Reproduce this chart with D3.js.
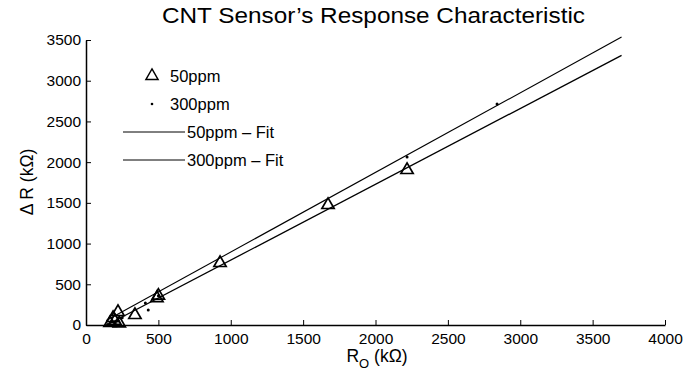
<!DOCTYPE html>
<html><head><meta charset="utf-8">
<script src="https://cdn.jsdelivr.net/npm/d3@7"></script>
<style>body{margin:0;background:#fff}svg{font-family:"Liberation Sans",Arial,sans-serif}</style>
</head><body><svg id="c" width="686" height="383"></svg>
<script>
const xTicks=[0,500,1000,1500,2000,2500,3000,3500,4000];
const yTicks=[0,500,1000,1500,2000,2500,3000,3500];
const r0_50=[166,187,221,200,230,338,490,500,926,1672,2218];
const dr_50=[25,86,160,50,20,123,330,360,762,1474,1904];
const r0_300=[150,180,200,220,250,410,430,500,2218,2840];
const dr_300=[5,40,20,60,90,270,185,360,2064,2715];
const fitX=[140,3700];
const fit50=[0.931*140-134,0.931*3700-134];
const fit300=[0.978*140-82,0.978*3700-82];
const legendLabels=["50ppm","300ppm","50ppm \u2013 Fit","300ppm \u2013 Fit"];

const svg=d3.select("#c");
const x=d3.scaleLinear().domain([0,4000]).range([86,665]);
const y=d3.scaleLinear().domain([0,3500]).range([325,40]);

svg.append("g").attr("transform","translate(0,325)")
 .call(d3.axisBottom(x).tickValues(xTicks).tickFormat(d3.format("d")).tickSize(-5).tickPadding(8).tickSizeOuter(0))
 .call(g=>{g.select(".domain").attr("stroke-width",1.5);g.selectAll("text").attr("font-size",15.5).attr("fill","#000");});
svg.append("g").attr("transform","translate(86,0)")
 .call(d3.axisLeft(y).tickValues(yTicks).tickFormat(d3.format("d")).tickSize(-5).tickPadding(5).tickSizeOuter(0))
 .call(g=>{g.select(".domain").attr("stroke-width",1.5);g.selectAll("text").attr("font-size",15.5).attr("fill","#000");});

const line=d3.line().x(d=>x(d[0])).y(d=>y(d[1]));
svg.append("path").attr("d",line(fitX.map((v,i)=>[v,fit50[i]]))).attr("stroke","#000").attr("stroke-width",1.3).attr("fill","none");
svg.append("path").attr("d",line(fitX.map((v,i)=>[v,fit300[i]]))).attr("stroke","#000").attr("stroke-width",1.1).attr("fill","none");

const tri=d3.symbol().type(d3.symbolTriangle).size(65);
svg.append("g").selectAll("path").data(r0_50.map((v,i)=>[v,dr_50[i]])).join("path")
 .attr("d",tri).attr("transform",d=>`translate(${x(d[0])},${y(d[1])})`)
 .attr("fill","none").attr("stroke","#000").attr("stroke-width",1.7);
svg.append("g").selectAll("circle").data(r0_300.map((v,i)=>[v,dr_300[i]])).join("circle")
 .attr("cx",d=>x(d[0])).attr("cy",d=>y(d[1])).attr("r",1.5).attr("fill","#000");

// legend
const lg=svg.append("g");
const ly=[76,104,132,160];
lg.append("path").attr("d",tri).attr("transform",`translate(152,${ly[0]})`).attr("fill","none").attr("stroke","#000").attr("stroke-width",1.4);
lg.append("circle").attr("cx",152).attr("cy",ly[1]).attr("r",1.3).attr("fill","#000");
lg.append("line").attr("x1",123).attr("x2",185).attr("y1",ly[2]).attr("y2",ly[2]).attr("stroke","#000").attr("stroke-width",1);
lg.append("line").attr("x1",123).attr("x2",185).attr("y1",ly[3]).attr("y2",ly[3]).attr("stroke","#000").attr("stroke-width",1);
lg.selectAll("text").data(legendLabels).join("text")
 .attr("x",(d,i)=>i<2?170:187).attr("y",(d,i)=>ly[i]+5.5).attr("font-size",16.5).text(d=>d);

svg.append("text").attr("x",162).attr("y",23).attr("font-size",21.5)
 .attr("textLength",423).attr("lengthAdjust","spacingAndGlyphs").text("CNT Sensor\u2019s Response Characteristic");
svg.append("text").attr("transform","translate(33,182) rotate(-90)").attr("text-anchor","middle").attr("font-size",17.5).text("\u0394 R (k\u03A9)");
const xl=svg.append("text").attr("x",377).attr("y",362).attr("text-anchor","middle").attr("font-size",17.5);
xl.append("tspan").text("R");
xl.append("tspan").attr("dy",6).attr("font-size",13).text("O");
xl.append("tspan").attr("dy",-6).text(" (k\u03A9)");
</script></body></html>
